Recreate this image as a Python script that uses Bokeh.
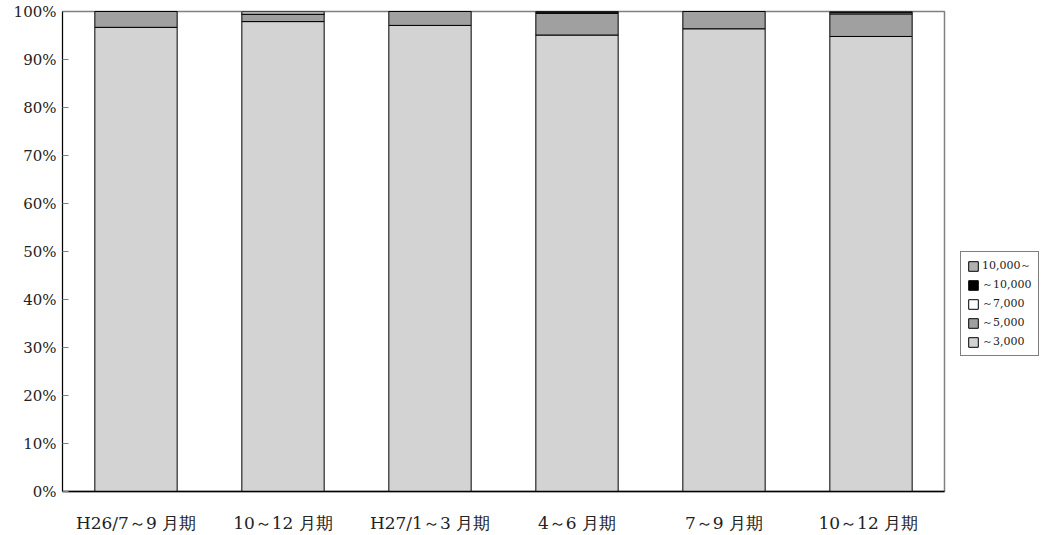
from bokeh.plotting import figure
from bokeh.models import Legend, LegendItem, NumeralTickFormatter, FixedTicker, Range1d
from bokeh.embed import file_html
from bokeh.resources import INLINE

periods = ["H26/7～9 月期", "10～12 月期", "H27/1～3 月期", "4～6 月期", "7～9 月期", "10～12 月期 "]
s3000 = [0.967, 0.979, 0.971, 0.951, 0.964, 0.948]
s5000 = [0.033, 0.015, 0.029, 0.045, 0.036, 0.047]
s7000 = [0.000, 0.000, 0.000, 0.003, 0.000, 0.0025]
s10000 = [0.000, 0.000, 0.000, 0.000, 0.000, 0.001]
s10000up = [0.000, 0.006, 0.000, 0.001, 0.000, 0.0015]

series_names = ["～3,000", "～5,000", "～7,000", "～10,000", "10,000～"]
colors = ["#D3D3D3", "#A0A0A0", "#FFFFFF", "#000000", "#B0B0B0"]
keys = ["a", "b", "c", "d", "e"]

data = dict(x=periods, a=s3000, b=s5000, c=s7000, d=s10000, e=s10000up)

FONT = "DejaVu Serif"

p = figure(x_range=periods, y_range=Range1d(0, 1),
           frame_width=882, frame_height=480,
           output_backend="svg", toolbar_location=None,
           min_border_left=62, min_border_top=11, min_border_bottom=40, min_border_right=99)

renderers = p.vbar_stack(keys, x="x", width=0.56, color=colors, line_color="black",
                         line_width=1, source=data)

p.x_range.range_padding = 0
p.xgrid.grid_line_color = None
p.ygrid.grid_line_color = None
p.outline_line_color = "#808080"
p.outline_line_width = 1.5

p.yaxis.ticker = FixedTicker(ticks=[i / 10 for i in range(11)])
p.yaxis.formatter = NumeralTickFormatter(format="0%")
p.yaxis.major_tick_in = 6
p.yaxis.major_tick_out = 0
p.yaxis.minor_tick_line_color = None
p.yaxis.axis_line_color = "black"
p.yaxis.major_tick_line_color = "#808080"
p.yaxis.major_label_standoff = 6
p.yaxis.major_label_text_font = FONT
p.yaxis.major_label_text_font_size = "15px"
p.yaxis.major_label_text_color = "#222222"

p.xaxis.major_tick_in = 0
p.xaxis.major_tick_out = 0
p.xaxis.axis_line_color = "black"
p.xaxis.axis_line_width = 1.5
p.xaxis.major_label_standoff = 21
p.xaxis.major_label_text_font = FONT
p.xaxis.major_label_text_font_size = "17px"
p.xaxis.major_label_text_color = "#222222"

items = [LegendItem(label=series_names[i], renderers=[renderers[i]]) for i in range(4, -1, -1)]
legend = Legend(items=items, location=(16, 135), orientation="vertical",
                border_line_color="black", border_line_width=1,
                label_text_font=FONT, label_text_font_size="11px",
                label_text_color="#222222",
                glyph_width=12, glyph_height=12, label_height=12,
                label_standoff=3, spacing=4, padding=6, margin=0,
                background_fill_alpha=1)
p.add_layout(legend, "right")

open("out.html", "w").write(file_html(p, INLINE))
